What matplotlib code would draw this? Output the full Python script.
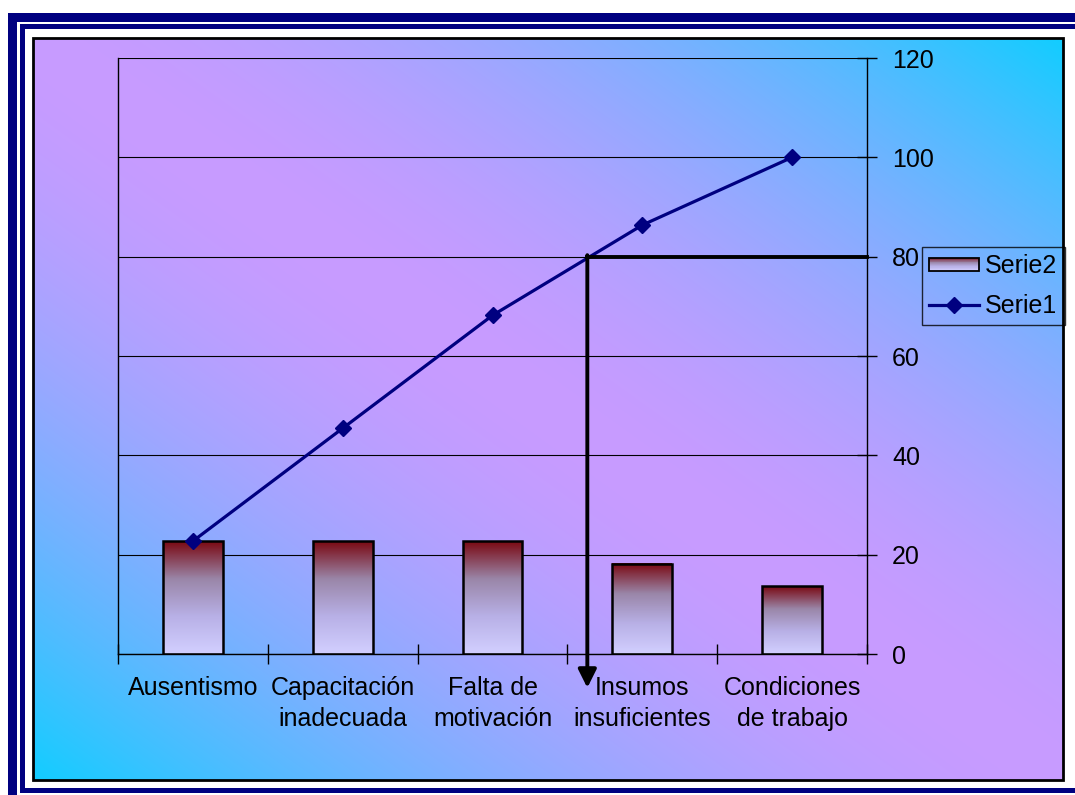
import numpy as np
import matplotlib
matplotlib.use('Agg')
import matplotlib.pyplot as plt
from matplotlib.patches import Rectangle, Patch
from matplotlib.lines import Line2D
from matplotlib.legend_handler import HandlerBase
from matplotlib.colors import LinearSegmentedColormap

plt.rcParams['font.family'] = ['Liberation Sans', 'DejaVu Sans']

# datos del diagrama de Pareto
categorias = ['Ausentismo', 'Capacitación\ninadecuada', 'Falta de\nmotivación',
              'Insumos\ninsuficientes', 'Condiciones\nde trabajo']
serie2 = [22.73, 22.73, 22.73, 18.18, 13.64]      # porcentaje por causa
serie1 = [22.73, 45.45, 68.18, 86.36, 100.0]      # porcentaje acumulado
y_ticks = [0, 20, 40, 60, 80, 100, 120]
corte = 80
x_corte = 2.633

W, H = 1075, 795
navy = '#000080'
grad_barra = LinearSegmentedColormap.from_list('barra', ['#d2cfff', '#b8b0e6', '#9a86a8', '#7a0a14'])

fig = plt.figure(figsize=(W / 100, H / 100), dpi=100)

# fondo en coordenadas de pixel
bg = fig.add_axes([0, 0, 1, 1])
bg.set_xlim(0, W)
bg.set_ylim(H, 0)
bg.axis('off')

for (x0, y0, w, h) in [(8, 13, 1067, 8.5), (8, 13, 8.5, 782),
                       (20, 24, 1055, 4.5), (20, 24, 4.5, 768), (20, 788, 1055, 4.5)]:
    bg.add_patch(Rectangle((x0, y0), w, h, color=navy, lw=0))

# degradado diagonal del area del grafico
u = np.linspace(0, 1, 400)[None, :]
v = np.linspace(0, 1, 300)[:, None]
t = (np.abs(u - v) ** 1.7)[..., None]
morado = np.array([200, 155, 255]) / 255
celeste = np.array([18, 205, 255]) / 255
img = morado * (1 - t) + celeste * t
bg.imshow(img, extent=(33, 1063, 780, 38), aspect='auto', interpolation='bilinear', zorder=1)
bg.add_patch(Rectangle((33, 38), 1030, 742, fill=False, ec='black', lw=2, zorder=2))
bg.set_xlim(0, W)
bg.set_ylim(H, 0)

# grafico principal
L, R, T, B = 118, 867, 58, 654
ax = fig.add_axes([L / W, 1 - B / H, (R - L) / W, (B - T) / H])
ax.patch.set_alpha(0)

x = np.arange(len(categorias))
ancho = 0.4
grad = np.linspace(1, 0, 100)[:, None]
for xi, h in zip(x, serie2):
    ax.imshow(grad, cmap=grad_barra, vmin=0, vmax=1, extent=(xi - ancho / 2, xi + ancho / 2, 0, h),
              aspect='auto', zorder=2, interpolation='bilinear')
ax.bar(x, serie2, width=ancho, facecolor='none', edgecolor='black', lw=1.8, zorder=3)

ax.plot(x, serie1, color=navy, lw=2.3, marker='D', markersize=8.5, zorder=4)

# linea del 80 % y flecha
ax.plot([x_corte, 4.5], [corte, corte], color='black', lw=2.8, zorder=5,
        solid_capstyle='projecting', clip_on=False)
ax.annotate('', xy=(x_corte, -6.8), xytext=(x_corte, corte + 0.3),
            arrowprops=dict(arrowstyle='-|>,head_length=1.1,head_width=0.55', color='black',
                            lw=2.8, shrinkA=0, shrinkB=0),
            annotation_clip=False, zorder=5)

ax.set_xlim(-0.5, 4.5)
ax.set_ylim(0, 120)
ax.set_yticks(y_ticks)
ax.yaxis.tick_right()
ax.yaxis.grid(True, color='black', lw=0.8)
ax.set_axisbelow(True)
ax.tick_params(axis='y', direction='inout', length=15, width=1, pad=10.5, labelsize=18)

ax.set_xticks(np.arange(-0.5, 5, 1))
ax.set_xticklabels([])
ax.set_xticks(x, minor=True)
ax.set_xticklabels(categorias, minor=True, linespacing=1.35)
ax.tick_params(axis='x', which='major', direction='inout', length=15, width=1)
ax.tick_params(axis='x', which='minor', length=0, pad=16, labelsize=18)

ax.spines['top'].set_visible(False)
for s in ['left', 'right', 'bottom']:
    ax.spines[s].set_linewidth(1)


class HandlerGradiente(HandlerBase):
    def create_artists(self, legend, orig_handle, xdescent, ydescent, width, height, fontsize, trans):
        n = 24
        hh = height * 0.75
        y0 = -ydescent + (height - hh) / 2
        arts = []
        for i in range(n):
            c = grad_barra(1 - i / (n - 1))
            arts.append(Rectangle((-xdescent, y0 + hh * (1 - (i + 1) / n)), width, hh / n,
                                  fc=c, ec='none', transform=trans))
        arts.append(Rectangle((-xdescent, y0), width, hh, fill=False, ec='black', lw=1.3, transform=trans))
        return arts


h_barra = Patch(label='Serie2')
h_linea = Line2D([], [], color=navy, lw=2.3, marker='D', markersize=8.5, label='Serie1')
leg = fig.legend(handles=[h_barra, h_linea], loc='upper left', bbox_to_anchor=(922 / W, 1 - 247 / H),
                 borderaxespad=0, fontsize=18, frameon=True, fancybox=False, edgecolor='black',
                 handlelength=2.0, handletextpad=0.25, labelspacing=0.65, borderpad=0.28,
                 handler_map={Patch: HandlerGradiente()})
leg.get_frame().set_facecolor('none')
leg.get_frame().set_linewidth(1)

fig.savefig('out.png', dpi=100)
